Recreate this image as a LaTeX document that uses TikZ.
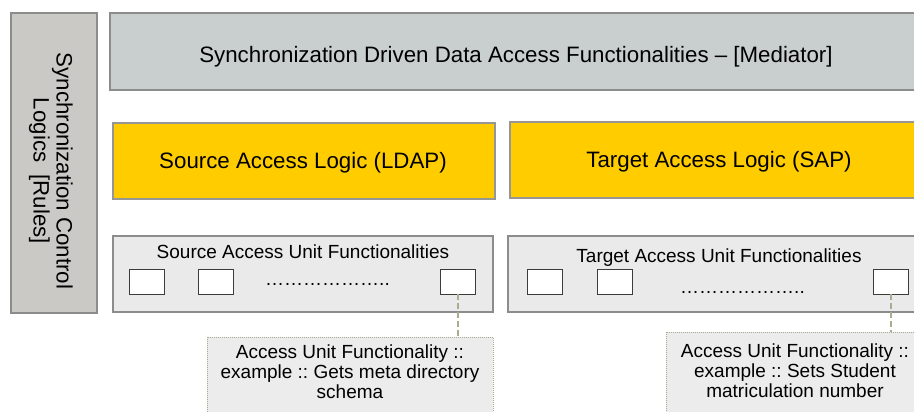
\documentclass[tikz,border=0pt]{standalone}
\usepackage{fontspec}
\setmainfont{Liberation Sans}
\frenchspacing
\definecolor{ctrlgray}{RGB}{203,201,197}
\definecolor{medgray}{RGB}{201,206,206}
\definecolor{boxline}{RGB}{140,140,140}
\definecolor{logicyellow}{RGB}{255,204,0}
\definecolor{yellowline}{RGB}{150,150,150}
\definecolor{unitgray}{RGB}{234,234,234}
\definecolor{sqline}{RGB}{60,60,60}
\definecolor{notegray}{RGB}{236,236,236}
\definecolor{noteline}{RGB}{165,170,145}
\definecolor{linkcol}{RGB}{168,173,145}
\begin{document}
\begin{tikzpicture}[x=1pt,y=-1pt,
  panel/.style={draw=boxline, line width=1.2pt, inner sep=0pt, outer sep=0pt, rectangle},
  ctrlbox/.style={panel, fill=ctrlgray},
  medbox/.style={panel, fill=medgray},
  logicbox/.style={panel, draw=yellowline, fill=logicyellow},
  unitbox/.style={panel, fill=unitgray},
  unitsq/.style={draw=sqline, fill=white, line width=1pt, minimum width=35pt, minimum height=25pt, inner sep=0pt, outer sep=0pt},
  notebox/.style={draw=noteline, line width=1pt, dash pattern=on 1pt off 1pt, fill=notegray, inner sep=0pt, outer sep=0pt},
  link/.style={draw=linkcol, line width=2.5pt, dash pattern=on 6pt off 3pt},
  bigtxt/.style={font=\fontsize{22.3}{23}\selectfont, inner sep=0pt},
  smalltxt/.style={font=\fontsize{19}{20}\selectfont, inner sep=0pt}]
\useasboundingbox (0,0) rectangle (914,412);
\clip (0,0) rectangle (914,412);

% boxes
\node[ctrlbox, minimum width=86pt, minimum height=300pt] (ctrl) at (54,163) {};
\node[medbox, minimum width=812pt, minimum height=77pt] (med) at (516,51.5) {};
\node[logicbox, minimum width=382pt, minimum height=76pt] (srclogic) at (304,161) {};
\node[logicbox, minimum width=418pt, minimum height=76pt] (tgtlogic) at (719,160) {};
\node[unitbox, minimum width=380pt, minimum height=76pt] (srcunit) at (303,274) {};
\node[unitbox, minimum width=424pt, minimum height=76pt] (tgtunit) at (720,274) {};

% unit squares
\node[unitsq] (s1) at (147,281.5) {};
\node[unitsq] (s2) at (216,281.5) {};
\node[unitsq] (s3) at (458,281.5) {};
\node[unitsq] (t1) at (545,281.5) {};
\node[unitsq] (t2) at (614.5,281.5) {};
\node[unitsq] (t3) at (891,281.5) {};

% notes
\node[notebox, minimum width=286pt, minimum height=100pt] (srcnote) at (350,387) {};
\node[notebox, minimum width=258pt, minimum height=100pt] (tgtnote) at (795,382) {};

% connectors
\draw[link] (s3.south) -- (s3.south |- srcnote.north);
\draw[link] (t3.south) -- (t3.south |- tgtnote.north);

% texts
\node[bigtxt, rotate=-90, align=center] (ctrltext) at (51,171) {Synchronization Control\\Logics~~[Rules]};
\node[bigtxt, anchor=base] (medtext) at (516,63) {Synchronization Driven Data Access Functionalities – [Mediator]};
\node[bigtxt, anchor=base] (srclogictext) at (303,168) {Source Access Logic (LDAP)};
\node[bigtxt, anchor=base] (tgtlogictext) at (719,167) {Target Access Logic (SAP)};
\node[smalltxt, anchor=base] (srcunittext) at (303,258) {Source Access Unit Functionalities};
\node[smalltxt, anchor=base] (tgtunittext) at (719,262) {Target Access Unit Functionalities};
\node[smalltxt, anchor=base] (srcdots) at (327.5,285) {………………..};
\node[smalltxt, anchor=base] (tgtdots) at (742.5,293) {………………..};
\node[smalltxt, align=center] (srcnotetext) at (350,372) {Access Unit Functionality ::\\example :: Gets meta directory\\schema};
\node[smalltxt, align=center] (tgtnotetext) at (795,371) {Access Unit Functionality ::\\example :: Sets Student\\matriculation number};
\end{tikzpicture}
\end{document}
